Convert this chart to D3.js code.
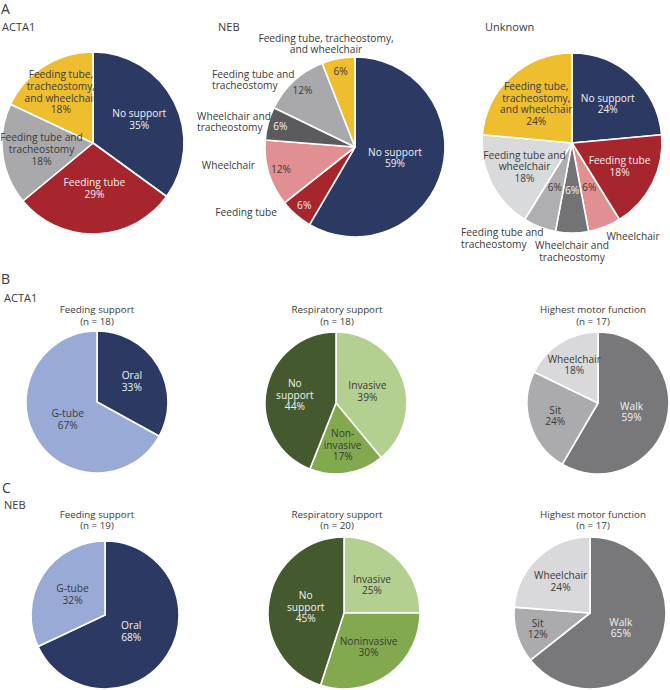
<!DOCTYPE html>
<html><head><meta charset="utf-8">
<script src="https://cdn.jsdelivr.net/npm/d3@7"></script>
<style>body{margin:0;background:#fff}svg{display:block}text{font-family:"Open Sans",sans-serif}</style>
</head><body><svg id="c" width="670" height="690"></svg>
<script>
// ---- Panel A data ----
const aActa1Cats = ["No support","Feeding tube","Feeding tube and\ntracheostomy","Feeding tube,\ntracheostomy,\nand wheelchair"];
const aActa1Vals = [35,29,18,18];
const aNebCats = ["No support","Feeding tube","Wheelchair","Wheelchair and\ntracheostomy","Feeding tube and\ntracheostomy","Feeding tube, tracheostomy,\nand wheelchair"];
const aNebVals = [59,6,12,6,12,6];
const aUnkCats = ["No support","Feeding tube","Wheelchair","Wheelchair and\ntracheostomy","Feeding tube and\ntracheostomy","Feeding tube and\nwheelchair","Feeding tube,\ntracheostomy,\nand wheelchair"];
const aUnkVals = [24,18,6,6,6,18,24];
// ---- Panel B (ACTA1) ----
const feedCats = ["Oral","G-tube"];
const bFeedVals = [33,67];
const bRespCats = ["Invasive","Non-\ninvasive","No\nsupport"];
const bRespVals = [39,17,44];
const motorCats = ["Walk","Sit","Wheelchair"];
const bMotorVals = [59,24,18];
const bN = [18,18,17];
// ---- Panel C (NEB) ----
const cFeedVals = [68,32];
const cRespCats = ["Invasive","Noninvasive","No\nsupport"];
const cRespVals = [25,30,45];
const cMotorVals = [65,12,24];
const cN = [19,20,17];
const chartTitles = ["Feeding support","Respiratory support","Highest motor function"];

// colours
const NAVY="#2c3a63", RED="#a7262d", GRAY="#a9a9ab", YEL="#eebe2f", PINK="#e28f92", DGRAY="#5b5b5d";
const cActa1=[NAVY,RED,GRAY,YEL];
const cNeb=[NAVY,RED,PINK,DGRAY,GRAY,YEL];
const cUnk=[NAVY,RED,PINK,"#737376","#afafb1","#d9dadc",YEL];
const cFeed=[NAVY,"#99aad7"];
const cResp=["#b4d091","#83a94f","#44592e"];
const cMotor=["#78787a","#ababad","#d9d9db"];

const svg=d3.select("#c");
const pie=d3.pie().sort(null).value(d=>d);

function txtColor(c){return d3.lab(c).l<56?"#f2f2f2":"#3a3a3a";}

function lines(g,x,y,arr,opts){
  const lh=opts.lh||11.6, n=arr.length;
  const t=g.append("text").attr("x",x).attr("y",y).attr("text-anchor",opts.anchor||"middle")
    .attr("font-size",opts.size||10.2).attr("fill",opts.fill||"#3a3a3a");
  arr.forEach((s,i)=>{t.append("tspan").attr("x",x).attr("y",y+(i-(n-1)/2)*lh).attr("dy","0.35em").text(s);});
}

function drawPie(cfg){
  const g=svg.append("g").attr("transform",`translate(${cfg.cx},${cfg.cy})`);
  const arcs=pie(cfg.vals);
  const arc=d3.arc().innerRadius(0).outerRadius(cfg.r);
  g.selectAll("path").data(arcs).join("path").attr("d",arc)
    .attr("fill",(d,i)=>cfg.colors[i]).attr("stroke","#fff").attr("stroke-width",1.6).attr("stroke-linejoin","round");
  arcs.forEach((d,i)=>{
    const inner=(cfg.inside?cfg.inside[i]:"full");
    const lr=cfg.r*((cfg.labelRs&&cfg.labelRs[i])||cfg.labelR);
    const la=d3.arc().innerRadius(lr).outerRadius(lr);
    const [x,y]=la.centroid(d);
    const pct=cfg.vals[i]+"%";
    const fill=txtColor(cfg.colors[i]);
    if(inner==="full") lines(g,x,y,cfg.cats[i].split("\n").concat([pct]),{fill});
    else lines(g,x,y,[pct],{fill});
    if(cfg.outer&&cfg.outer[i]){
      const o=cfg.outer[i];
      lines(g,o[0],o[1],cfg.cats[i].split("\n"),{anchor:o[2],fill:"#3a3a3a"});
    }
  });
}

// headings
function head(x,y,s,size){svg.append("text").attr("x",x).attr("y",y).attr("font-size",size).attr("fill","#3a3a3a").text(s);}
head(1,14,"A",14); head(2,31,"ACTA1",11); head(218,31,"NEB",11); head(485,31,"Unknown",11);
head(1,284,"B",14); head(4,302,"ACTA1",11);
head(2,493,"C",14); head(4,509,"NEB",11);

drawPie({cx:93,cy:143,r:91,vals:aActa1Vals,cats:aActa1Cats,colors:cActa1,labelR:0.57,labelRs:[0.57,0.5,0.57,0.66]});
drawPie({cx:355,cy:147,r:90,vals:aNebVals,cats:aNebCats,colors:cNeb,labelR:0.86,labelRs:[0.46],
  inside:["full","pct","pct","pct","pct","pct"],
  outer:[null,[-78,65,"end"],[-100,18,"end"],[-158,-25,"start"],[-143,-67,"start"],[-29,-103,"middle"]]});
drawPie({cx:572,cy:143,r:90,vals:aUnkVals,cats:aUnkCats,colors:cUnk,labelR:0.59,labelRs:[0,0,0.53,0.53,0.53],
  inside:["full","full","pct","pct","pct","full","full"],
  outer:[null,null,[61,93,"middle"],[0,108.5,"middle"],[-111,95.5,"start"],null,null]});

// titles
function titles(y,ns){
  [97,337,593].forEach((x,i)=>{
    lines(svg,x,y,[chartTitles[i],`(n = ${ns[i]})`],{fill:"#3a3a3a",lh:11.5,size:9.8});
  });
}
titles(315.5,bN); titles(520,cN);

drawPie({cx:97,cy:402,r:71,vals:bFeedVals,cats:feedCats,colors:cFeed,labelR:0.53,labelRs:[0.57,0.48]});
drawPie({cx:336,cy:403,r:71,vals:bRespVals,cats:bRespCats,colors:cResp,labelR:0.57,labelRs:[0.47,0.6,0.59]});
drawPie({cx:598,cy:403,r:71,vals:bMotorVals,cats:motorCats,colors:cMotor,labelR:0.57,labelRs:[0.49,0.63,0.63]});
drawPie({cx:105,cy:615,r:74,vals:cFeedVals,cats:feedCats,colors:cFeed,labelR:0.5,labelRs:[0.42,0.52]});
drawPie({cx:344,cy:613,r:76,vals:cRespVals,cats:cRespCats,colors:cResp,labelR:0.54,labelRs:[0.52,0.55,0.51]});
drawPie({cx:590,cy:613,r:76,vals:cMotorVals,cats:motorCats,colors:cMotor,labelR:0.57,labelRs:[0.45,0.72,0.57]});
</script></body></html>
